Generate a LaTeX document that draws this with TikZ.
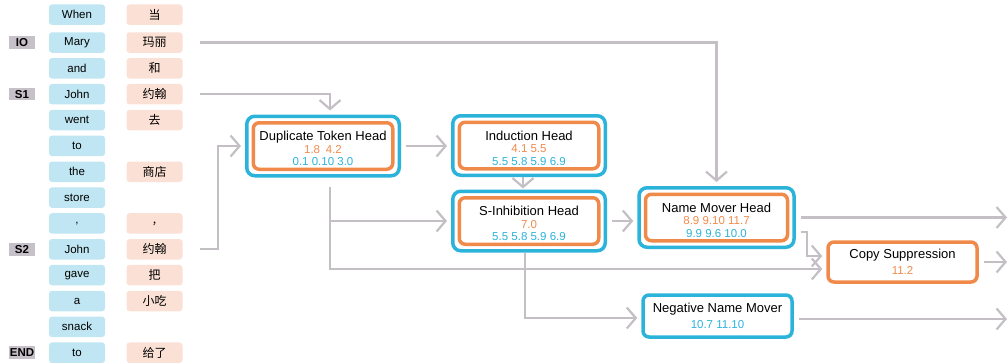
\documentclass[tikz,border=0pt]{standalone}
\usepackage{fontspec}
\setmainfont{Liberation Sans}
\newfontfamily\zhfont{Noto Sans CJK SC}
\usetikzlibrary{positioning, fit, calc, arrows.meta}
\definecolor{circBlue}{HTML}{2BB3DA}
\definecolor{circOrange}{HTML}{F08A4B}
\definecolor{tokBlue}{HTML}{BFE6F2}
\definecolor{tokOrange}{HTML}{FBE1D5}
\definecolor{tagGrey}{HTML}{C6C1C8}
\definecolor{wireGrey}{HTML}{C3BFC5}

\begin{document}
\begin{tikzpicture}[x=1pt, y=-1pt,
  tok/.style={fill=tokBlue, rounded corners=3pt, minimum width=56pt, minimum height=20.5pt, inner sep=0pt, font=\fontsize{11.5}{12}\selectfont},
  zh/.style={tok, fill=tokOrange, font=\zhfont\fontsize{12}{12}\selectfont},
  tag/.style={fill=tagGrey, minimum width=26pt, minimum height=12.5pt, inner sep=0pt, font=\fontsize{11.5}{12}\selectfont\bfseries},
  head/.style={draw=circOrange, line width=3.5pt, rounded corners=6pt, minimum width=139.5pt, minimum height=46.5pt, align=center, inner sep=1pt, font=\fontsize{11.5}{12.5}\selectfont},
  ring/.style={draw=circBlue, line width=3.5pt, rounded corners=8pt, inner sep=4.75pt},
  arr/.style={draw=wireGrey, line width=2.2pt, -{Straight Barb[length=9pt, width=21pt]}, shorten <=5pt, shorten >=4pt}
]
\useasboundingbox (0,0) rectangle (1008,362);

% prompt tokens, english
\node[tok] (en1) at (77,14.7) {When};
\node[tok] (en2) at (77,42.5) {Mary};
\node[tok] (en3) at (77,68.35) {and};
\node[tok] (en4) at (77,94.2) {John};
\node[tok] (en5) at (77,120.05) {went};
\node[tok] (en6) at (77,145.9) {to};
\node[tok] (en7) at (77,171.75) {the};
\node[tok] (en8) at (77,197.6) {store};
\node[tok] (en9) at (77,223.45) {,};
\node[tok] (en10) at (77,249.3) {John};
\node[tok] (en11) at (77,275.15) {gave};
\node[tok] (en12) at (77,301) {a};
\node[tok] (en13) at (77,326.85) {snack};
\node[tok] (en14) at (77,352.7) {to};

% prompt tokens, chinese
\node[zh] (zh1) at (154.5,14.7) {当};
\node[zh] (zh2) at (154.5,42.5) {玛丽};
\node[zh] (zh3) at (154.5,68.35) {和};
\node[zh] (zh4) at (154.5,94.2) {约翰};
\node[zh] (zh5) at (154.5,120.05) {去};
\node[zh] (zh7) at (154.5,171.75) {商店};
\node[zh] (zh9) at (154.5,223.45) {,};
\node[zh] (zh10) at (154.5,249.3) {约翰};
\node[zh] (zh11) at (154.5,275.15) {把};
\node[zh] (zh12) at (154.5,301) {小吃};
\node[zh] (zh14) at (154.5,352.7) {给了};

% position tags
\node[tag] (io) at (22,42.5) {IO};
\node[tag] (s1) at (22,94.2) {S1};
\node[tag] (s2) at (22,249.3) {S2};
\node[tag] (end) at (22,352.7) {END};

% head classes
\node[head] (dup) at (323,146) {{\fontsize{13}{13}\selectfont\rule{0pt}{15pt}Duplicate Token Head}\\
  \textcolor{circOrange}{1.8\enspace 4.2}\\ \textcolor{circBlue}{0.1 0.10 3.0}};
\node[ring, fit=(dup)] (dupbox) {};
\node[head] (ind) at (529,145.5) {{\fontsize{13}{13}\selectfont\rule{0pt}{15pt}Induction Head}\\
  \textcolor{circOrange}{4.1 5.5}\\ \textcolor{circBlue}{5.5 5.8 5.9 6.9}};
\node[ring, fit=(ind)] (indbox) {};
\node[head] (sinh) at (529,221) {{\fontsize{13}{13}\selectfont\rule{0pt}{15pt}S-Inhibition Head}\\
  \textcolor{circOrange}{7.0}\\ \textcolor{circBlue}{5.5 5.8 5.9 6.9}};
\node[ring, fit=(sinh)] (sinhbox) {};
\node[head, minimum width=142pt] (nm) at (716.5,217.5) {{\fontsize{13}{13}\selectfont\rule{0pt}{15pt}Name Mover Head}\\
  \textcolor{circOrange}{8.9 9.10 11.7}\\ \textcolor{circBlue}{9.9 9.6 10.0}};
\node[ring, fit=(nm)] (nmbox) {};
\node[head, minimum width=149pt, minimum height=40pt] (cs) at (902.5,262) {{\fontsize{13}{13}\selectfont Copy Suppression}\\[3pt]
  \textcolor{circOrange}{11.2}};
\node[head, draw=circBlue, minimum width=149pt, minimum height=42pt] (nnm) at (717.5,316) {{\fontsize{13}{13}\selectfont Negative Name Mover}\\[3pt]
  \textcolor{circBlue}{10.7 11.10}};

\coordinate (s2bend) at (218,0);
\coordinate (dupdrop) at ([xshift=7pt]dupbox.south);
\coordinate (rim) at (1007,0);

% wires
\draw[arr, shorten <=17pt] (zh2.east) -| (nmbox.north);
\draw[arr, shorten <=17pt] (zh4.east) -| ([xshift=7pt]dupbox.north);
\draw[arr, shorten <=17pt] (zh10.east) -- (zh10.east -| s2bend) |- (dupbox.west);
\draw[arr] (dupbox.east) -- (dupbox.east -| indbox.west);
\draw[arr, shorten <=0pt, shorten >=1pt] ([xshift=-6pt]indbox.south) -- ([xshift=-6pt]sinhbox.north);
\draw[arr, shorten <=9pt] (dupdrop) |- ([yshift=-7pt]cs.west);
\draw[arr, shorten <=0pt] (dupdrop |- sinhbox.west) -- (sinhbox.west);
\draw[arr] (sinhbox.east) -- (sinhbox.east -| nmbox.west);
\draw[arr, shorten <=0pt] ([xshift=-4pt]sinhbox.south) |- ([yshift=-2pt]nnm.west);
\draw[arr, shorten >=0pt] (nmbox.east) -- (nmbox.east -| rim);
\draw[arr] ([yshift=-14.5pt]nmbox.east) -- ++(11,0) |- ([yshift=6pt]cs.west);
\draw[arr, shorten >=0pt] (cs.east) -- (cs.east -| rim);
\draw[arr, shorten >=0pt] ([yshift=-3pt]nnm.east) -- ([yshift=-3pt]nnm.east -| rim);
\end{tikzpicture}
\end{document}
